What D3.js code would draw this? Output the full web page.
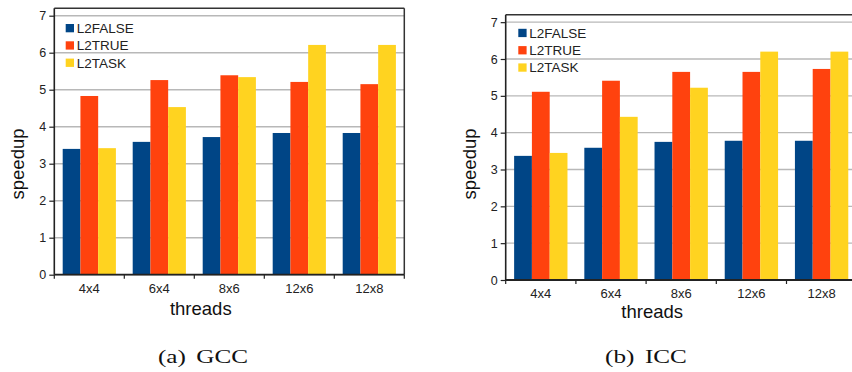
<!DOCTYPE html>
<html><head><meta charset="utf-8">
<script src="https://cdn.jsdelivr.net/npm/d3@7"></script>
<style>
html,body{margin:0;padding:0;background:#fff;}
svg{display:block;}
</style></head>
<body>
<svg id="chart" width="852" height="372"></svg>
<script>
const categories = ["4x4", "6x4", "8x6", "12x6", "12x8"];
const seriesNames = ["L2FALSE", "L2TRUE", "L2TASK"];
const colors = ["#004586", "#ff420e", "#ffd320"];
const yTicks = [0, 1, 2, 3, 4, 5, 6, 7];

// (a) GCC
const gccFalse = [3.40, 3.59, 3.72, 3.83, 3.83];
const gccTrue  = [4.83, 5.26, 5.39, 5.21, 5.15];
const gccTask  = [3.42, 4.53, 5.34, 6.21, 6.21];
// (b) ICC
const iccFalse = [3.37, 3.59, 3.75, 3.78, 3.78];
const iccTrue  = [5.11, 5.41, 5.65, 5.65, 5.73];
const iccTask  = [3.45, 4.43, 5.22, 6.20, 6.20];

const panels = [
  {caption: "(a) GCC", series: [gccFalse, gccTrue, gccTask],
   left: 54.3, right: 404.3, top: 8.3, bottom: 274.7, legX: 65.7, legY: 24,
   capX: 203, labelDy: 18.5, titleY: 315},
  {caption: "(b) ICC", series: [iccFalse, iccTrue, iccTask],
   left: 505.7, right: 856.7, top: 14.8, bottom: 280, legX: 518.3, legY: 28.8,
   capX: 646, labelDy: 17.5, titleY: 317.5}
];

const svg = d3.select("#chart");
const sans = "'Liberation Sans', Arial, sans-serif";

panels.forEach(p => {
  const g = svg.append("g");
  const x0 = d3.scaleBand().domain(categories).range([p.left, p.right]).padding(0);
  const bw = x0.bandwidth();
  const x1 = d3.scaleBand().domain(seriesNames).range([bw * 0.12, bw * 0.88]).padding(0);
  const y = d3.scaleLinear().domain([0, 7.2]).range([p.bottom, p.top]);

  // gridlines
  g.append("g").selectAll("line").data(yTicks).join("line")
    .attr("x1", p.left).attr("x2", p.right)
    .attr("y1", d => y(d)).attr("y2", d => y(d))
    .attr("stroke", "#b8b8b8").attr("stroke-width", 1.4);

  // frame top & right
  g.append("line").attr("x1", p.left).attr("x2", p.right)
    .attr("y1", p.top).attr("y2", p.top).attr("stroke", "#333").attr("stroke-width", 1.5);
  g.append("line").attr("x1", p.right).attr("x2", p.right)
    .attr("y1", p.top).attr("y2", p.bottom).attr("stroke", "#333").attr("stroke-width", 1.5);

  // bars
  const data = categories.map((c, i) => ({c, vals: seriesNames.map((s, j) => ({s, j, v: p.series[j][i]}))}));
  g.append("g").selectAll("g").data(data).join("g")
    .attr("transform", d => `translate(${x0(d.c)},0)`)
    .selectAll("rect").data(d => d.vals).join("rect")
    .attr("x", d => x1(d.s)).attr("width", x1.bandwidth())
    .attr("y", d => y(d.v)).attr("height", d => y(0) - y(d.v))
    .attr("fill", d => colors[d.j]);

  // y axis
  const yAxis = g.append("g").attr("transform", `translate(${p.left},0)`)
    .call(d3.axisLeft(y).tickValues(yTicks).tickFormat(d3.format("d")).tickSize(5).tickPadding(3));
  yAxis.select(".domain").attr("stroke", "#222").attr("stroke-width", 1.6)
    .attr("d", `M0,${p.top}V${p.bottom}`);
  yAxis.selectAll(".tick line").attr("stroke", "#222").attr("stroke-width", 1.2);
  yAxis.selectAll("text").attr("font-family", sans).attr("font-size", "12.5px").attr("fill", "#222");

  // x axis
  const xb = d3.scaleLinear().domain([0, categories.length]).range([p.left, p.right]);
  g.append("line").attr("x1", p.left).attr("x2", p.right)
    .attr("y1", p.bottom).attr("y2", p.bottom).attr("stroke", "#222").attr("stroke-width", 1.8);
  g.append("g").selectAll("line").data(d3.range(categories.length + 1)).join("line")
    .attr("x1", d => xb(d)).attr("x2", d => xb(d))
    .attr("y1", p.bottom).attr("y2", p.bottom + 4)
    .attr("stroke", "#222").attr("stroke-width", 1.2);
  g.append("g").selectAll("text").data(categories).join("text")
    .attr("x", d => x0(d) + bw / 2).attr("y", p.bottom + p.labelDy)
    .attr("text-anchor", "middle").attr("font-family", sans).attr("font-size", "13px")
    .attr("fill", "#222").text(d => d);

  // axis titles
  g.append("text").attr("x", p.left + 146.5).attr("y", p.titleY)
    .attr("text-anchor", "middle").attr("font-family", sans).attr("font-size", "18.5px")
    .attr("fill", "#111").text("threads");
  g.append("text")
    .attr("transform", `translate(${p.left - 30},164) rotate(-90)`)
    .attr("text-anchor", "middle").attr("font-family", sans).attr("font-size", "18.5px")
    .attr("fill", "#111").text("speedup");

  // legend
  const leg = g.append("g").selectAll("g").data(seriesNames).join("g")
    .attr("transform", (d, i) => `translate(${p.legX},${p.legY + i * 17.3})`);
  leg.append("rect").attr("width", 8.3).attr("height", 8.3).attr("fill", (d, i) => colors[i]);
  leg.append("text").attr("x", 11).attr("y", 9)
    .attr("font-family", sans).attr("font-size", "13.5px").attr("fill", "#222").text(d => d);

  // caption
  svg.append("text").attr("transform", `translate(${p.capX},363) scale(1.4,1)`)
    .attr("text-anchor", "middle").attr("font-family", "'Liberation Serif', 'Times New Roman', serif")
    .attr("font-size", "18px").attr("fill", "#111").attr("word-spacing", "3px").text(p.caption);
});
</script>
</body></html>
